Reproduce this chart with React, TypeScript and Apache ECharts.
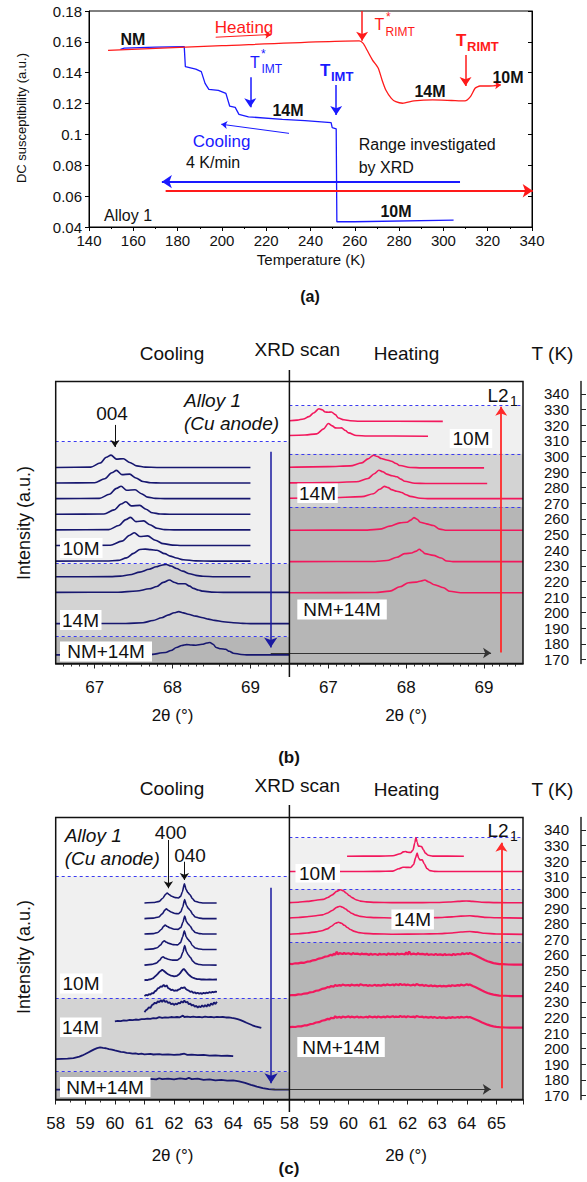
import { useEffect, useRef } from 'react';
import * as echarts from 'echarts';

const F = '"Liberation Sans", Arial, Helvetica, sans-serif';

// ---------------- (a) DC susceptibility vs temperature ----------------
const heatingCurve = [[148.6,0.1545],[200,0.1575],[262,0.1606],[263.8,0.159],[265.5,0.1547],[268,0.1482],[270.6,0.1429],[272.3,0.1353],[274,0.1288],[276.5,0.1234],[278.5,0.1212],[281.6,0.1202],[286.7,0.1217],[295.2,0.1224],[303.7,0.122],[309.7,0.1217],[312.2,0.1245],[314.3,0.1299],[316.5,0.1314],[320.7,0.1314],[325.5,0.132]];
const coolingCurve = [[304.6,0.0445],[259.6,0.0434],[251.9,0.0434],[251.6,0.1036],[249.8,0.1044],[249.3,0.1076],[237.5,0.109],[227.3,0.1098],[212,0.1114],[207.7,0.113],[206,0.1175],[203.5,0.1184],[201.8,0.1266],[198.4,0.1286],[194.1,0.1292],[192.4,0.1331],[190.7,0.1407],[188.2,0.1423],[183.5,0.1439],[183,0.1569],[170,0.1566],[155.9,0.156],[154.2,0.1552]];

// ---------------- tick labels ----------------
const tLabels = [170,180,190,200,210,220,230,240,250,260,270,280,290,300,310,320,330,340];
const bTwoThetaLabels = [67,68,69];

// shaded-band boundaries (K): [white/10M, 10M/14M, 14M/NM+14M]
const bLeftBounds = [309.5, 231.4, 184.7];
const bRightBounds = [332.5, 301.7, 267.6];
const cLeftBounds = [310.2, 232.3, 185.3];
const cRightBounds = [335.1, 302.0, 268.2];

// ---------------- (b) cooling patterns (2θ, offset) ----------------
const bCool293 = { T: 293, pts: [[66.5,0],[66.95,0.2],[67.07,2.8],[67.15,6.5],[67.21,7.9],[67.28,5.3],[67.37,5.6],[67.45,3.2],[67.54,1.0],[67.65,0.2],[67.8,0],[69.0,0]] };
const bCool283 = { T: 283, pts: [[66.5,0],[67.0,0.2],[67.13,2.8],[67.22,6.6],[67.28,8.1],[67.35,5.4],[67.45,5.7],[67.53,3.2],[67.62,1.0],[67.72,0.2],[67.85,0],[69.0,0]] };
const bCool273 = { T: 273, pts: [[66.5,0],[67.06,0.2],[67.19,2.8],[67.28,6.6],[67.34,8.0],[67.41,5.4],[67.52,5.7],[67.6,3.2],[67.68,1.0],[67.78,0.2],[67.9,0],[69.0,0]] };
const bCool263 = { T: 263, pts: [[66.5,0],[67.12,0.2],[67.25,2.8],[67.34,6.6],[67.4,8.0],[67.47,5.4],[67.58,5.7],[67.66,3.2],[67.74,1.0],[67.84,0.2],[67.96,0],[69.0,0]] };
const bCool253 = { T: 253, pts: [[66.5,0],[67.18,0.2],[67.31,2.8],[67.4,6.6],[67.46,8.0],[67.53,5.3],[67.63,5.8],[67.71,3.3],[67.8,1.1],[67.9,0.2],[68.02,0],[69.0,0]] };
const bCool243 = { T: 243, pts: [[66.5,0],[67.2,0.2],[67.35,2.8],[67.45,6.6],[67.51,8.2],[67.58,5.8],[67.68,6.2],[67.78,3.4],[67.88,1.2],[68.0,0.3],[68.12,0],[69.0,0]] };
const bCool233 = { T: 233, pts: [[66.5,0],[67.15,0.1],[67.3,0.5],[67.41,2.1],[67.5,5.0],[67.58,7.5],[67.65,7.7],[67.72,7.4],[67.8,7.0],[67.9,4.8],[67.97,3.2],[68.05,2.0],[68.14,0.9],[68.3,0.2],[68.5,0],[69.0,0]] };
const bCool223 = { T: 223, pts: [[66.5,0],[67.2,0.1],[67.33,0.4],[67.45,1.3],[67.58,3.0],[67.7,4.8],[67.79,6.4],[67.86,7.4],[67.92,7.9],[67.98,6.9],[68.05,5.3],[68.13,3.6],[68.22,1.9],[68.3,0.9],[68.39,0.3],[68.55,0],[69.0,0]] };
const bCool213 = { T: 213, pts: [[66.5,0],[67.3,0.1],[67.54,0.9],[67.7,2.3],[67.8,3.8],[67.88,6.4],[67.96,7.9],[68.03,6.3],[68.08,5.5],[68.16,5.5],[68.22,4.0],[68.27,2.6],[68.33,1.5],[68.39,0.8],[68.5,0.2],[68.65,0],[69.5,0]] };
const bCool193 = { T: 193, pts: [[66.5,0],[67.4,0.1],[67.62,0.6],[67.75,2.0],[67.86,3.8],[67.95,5.6],[68.02,7.0],[68.08,7.7],[68.14,6.9],[68.2,6.0],[68.3,4.8],[68.39,3.8],[68.46,2.9],[68.54,2.1],[68.65,1.2],[68.78,0.6],[68.9,0.2],[69.0,0],[69.5,0]] };
const bCool173 = { T: 173, pts: [[66.5,0],[67.7,0.1],[67.91,1.5],[67.98,2.8],[68.05,4.7],[68.12,6.0],[68.18,6.6],[68.24,6.3],[68.3,6.2],[68.38,6.8],[68.44,7.6],[68.48,7.9],[68.52,6.8],[68.56,4.7],[68.62,3.9],[68.68,3.6],[68.73,2.3],[68.78,1.1],[68.88,0.3],[68.97,0],[69.5,0]] };

// ---------------- (b) heating patterns ----------------
const bHeat323 = { T: 322.5, pts: [[66.5,0.4],[66.6,0.8],[66.68,1.5],[66.75,3.0],[66.81,5.3],[66.88,8.1],[66.92,7.4],[66.96,6.0],[67.0,5.8],[67.04,6.0],[67.09,4.3],[67.13,2.1],[67.2,1.0],[67.28,0.4],[67.4,0.1],[68.47,0]] };
const bHeat313 = { T: 313, pts: [[66.5,0.4],[66.7,0.8],[66.85,1.5],[66.94,4.7],[67.0,8.1],[67.05,6.6],[67.09,5.3],[67.13,5.2],[67.17,5.3],[67.22,3.6],[67.26,2.1],[67.36,0.4],[67.5,0.1],[68.28,0]] };
const bHeat293 = { T: 292.7, pts: [[66.5,0.4],[67.0,0.8],[67.28,1.3],[67.43,3.2],[67.51,5.8],[67.58,8.1],[67.63,7.3],[67.68,6.0],[67.75,5.1],[67.81,4.3],[67.87,2.8],[67.92,1.5],[68.05,0.3],[68.2,0],[69.0,0]] };
const bHeat283 = { T: 282.7, pts: [[66.5,0.4],[67.0,0.6],[67.36,1.1],[67.51,3.2],[67.59,6.3],[67.65,8.5],[67.7,7.5],[67.75,6.0],[67.82,5.0],[67.88,4.3],[67.93,2.8],[67.98,1.5],[68.11,0.2],[68.25,0],[69.04,0]] };
const bHeat273 = { T: 273, pts: [[66.5,0.3],[67.0,0.5],[67.43,1.3],[67.58,3.2],[67.66,6.0],[67.72,7.9],[67.77,7.1],[67.81,5.8],[67.88,4.8],[67.94,4.0],[68.0,2.5],[68.05,1.5],[68.18,0.3],[68.3,0],[69.5,0]] };
const bHeat253 = { T: 252.8, pts: [[66.5,0],[67.5,0.1],[67.66,0.7],[67.79,2.6],[67.92,4.7],[68.01,5.1],[68.06,6.5],[68.1,8.1],[68.14,7.0],[68.18,5.1],[68.26,4.1],[68.35,3.0],[68.43,0.7],[68.52,0],[69.5,0]] };
const bHeat233 = { T: 232.7, pts: [[66.5,0],[67.6,0.1],[67.75,0.7],[67.88,2.8],[67.98,5.1],[68.07,5.5],[68.12,6.6],[68.17,7.9],[68.2,6.8],[68.24,5.1],[68.35,4.0],[68.45,2.3],[68.52,0.4],[68.6,0],[69.5,0]] };
const bHeat213 = { T: 212.8, pts: [[66.5,0],[67.6,0.1],[67.79,1.0],[67.92,3.8],[68.03,6.4],[68.13,6.8],[68.19,7.5],[68.24,8.1],[68.29,6.9],[68.35,5.3],[68.48,3.2],[68.56,0.9],[68.7,0],[69.5,0]] };

// ---------------- (c) cooling patterns ----------------
const cCool293 = { T: 293.3, pts: [[61.0,0],[61.3,0.3],[61.5,1.0],[61.62,3.0],[61.72,5.6],[61.77,6.4],[61.83,5.4],[61.92,4.3],[62.05,3.4],[62.15,3.2],[62.22,4.2],[62.28,7.0],[62.35,12.2],[62.41,8.6],[62.47,6.6],[62.54,5.3],[62.62,2.8],[62.71,1.1],[62.85,0.3],[63.0,0],[63.44,0]] };
const cCool283 = { T: 283.3, pts: [[61.0,0],[61.3,0.3],[61.48,1.0],[61.6,3.0],[61.69,5.4],[61.74,6.3],[61.8,5.3],[61.9,4.2],[62.03,3.3],[62.15,3.1],[62.23,4.3],[62.29,7.2],[62.36,12.2],[62.42,8.4],[62.48,6.6],[62.55,5.2],[62.63,2.7],[62.72,1.0],[62.86,0.3],[63.0,0],[63.44,0]] };
const cCool273 = { T: 273.4, pts: [[61.0,0],[61.3,0.3],[61.45,1.0],[61.57,2.9],[61.65,5.0],[61.7,5.8],[61.76,5.0],[61.86,4.0],[62.0,3.1],[62.14,3.0],[62.23,4.2],[62.3,7.5],[62.36,11.6],[62.42,8.0],[62.48,6.4],[62.55,5.0],[62.63,2.6],[62.72,1.0],[62.86,0.3],[63.0,0],[63.44,0]] };
const cCool263 = { T: 263.5, pts: [[61.0,0],[61.3,0.4],[61.43,1.1],[61.55,3.0],[61.62,4.9],[61.67,5.6],[61.73,4.8],[61.83,3.9],[61.97,3.1],[62.12,3.0],[62.22,4.4],[62.29,8.0],[62.35,12.0],[62.41,8.2],[62.47,6.5],[62.54,5.1],[62.62,2.6],[62.72,1.0],[62.86,0.3],[63.0,0],[63.44,0]] };
const cCool253 = { T: 253.5, pts: [[61.0,0],[61.25,0.5],[61.4,1.3],[61.52,3.2],[61.58,4.8],[61.63,5.4],[61.69,4.6],[61.8,3.8],[61.95,3.2],[62.1,3.2],[62.22,4.6],[62.3,8.4],[62.36,12.6],[62.42,8.6],[62.48,6.6],[62.55,5.0],[62.63,2.6],[62.72,1.1],[62.86,0.4],[63.0,0.1],[63.44,0]] };
const cCool243 = { T: 243.7, pts: [[61.0,0],[61.05,0.3],[61.1,0.2],[61.15,0.6],[61.2,0.7],[61.25,1.1],[61.3,1.5],[61.35,2.4],[61.4,3.3],[61.45,4.2],[61.5,5.3],[61.55,6.1],[61.6,6.8],[61.65,6.2],[61.7,5.4],[61.75,4.6],[61.8,4.0],[61.85,3.5],[61.9,3.1],[61.95,2.9],[62.0,2.6],[62.05,2.8],[62.1,3.0],[62.15,3.6],[62.2,4.5],[62.25,5.8],[62.3,7.0],[62.33,7.4],[62.37,6.6],[62.42,5.4],[62.47,4.2],[62.52,3.3],[62.57,2.5],[62.62,1.9],[62.7,1.3],[62.78,0.9],[62.85,0.8],[62.92,0.6],[63.0,0.7],[63.1,0.5],[63.2,0.6],[63.3,0.5],[63.45,0.6]] };
const cCool233 = { T: 233.8, pts: [[61.0,0],[61.05,0.6],[61.1,0.3],[61.15,1.1],[61.2,0.8],[61.25,1.8],[61.3,1.6],[61.35,2.9],[61.4,3.4],[61.45,4.8],[61.5,5.1],[61.55,6.2],[61.6,5.8],[61.65,7.2],[61.7,5.9],[61.75,6.8],[61.8,5.0],[61.85,4.6],[61.9,3.7],[61.95,4.0],[62.0,3.2],[62.05,3.6],[62.1,3.3],[62.15,4.1],[62.2,4.3],[62.25,5.4],[62.3,5.0],[62.35,5.6],[62.4,4.4],[62.45,3.8],[62.5,3.4],[62.55,2.6],[62.6,2.9],[62.65,2.0],[62.7,2.3],[62.75,1.6],[62.8,2.0],[62.85,1.4],[62.9,1.8],[62.95,1.3],[63.0,2.0],[63.05,1.5],[63.1,2.2],[63.15,1.8],[63.2,2.5],[63.25,2.0],[63.3,2.6],[63.35,2.3],[63.4,2.8],[63.45,2.6]] };
const cCool223 = { T: 223.4, pts: [[61.0,0],[61.05,1.2],[61.1,1.9],[61.15,3.2],[61.2,2.6],[61.25,4.4],[61.3,5.0],[61.35,6.1],[61.4,5.5],[61.45,7.0],[61.5,6.3],[61.55,7.7],[61.6,6.6],[61.65,7.9],[61.7,6.5],[61.75,7.2],[61.8,5.8],[61.85,6.4],[61.9,5.0],[61.95,5.6],[62.0,4.6],[62.05,5.5],[62.1,4.9],[62.15,6.0],[62.2,5.6],[62.25,6.9],[62.3,6.1],[62.35,7.4],[62.4,6.2],[62.45,6.6],[62.5,5.1],[62.55,5.5],[62.6,4.2],[62.65,4.8],[62.7,3.4],[62.75,4.1],[62.8,2.9],[62.85,3.8],[62.9,3.1],[62.95,4.4],[63.0,3.3],[63.05,4.6],[63.1,3.5],[63.15,5.1],[63.2,3.9],[63.25,5.6],[63.3,4.6],[63.35,6.3],[63.4,5.2],[63.45,6.6]] };
const cCool213 = { T: 213.3, pts: [[60.0,4.2],[60.1,4.5],[60.2,4.3],[60.3,4.8],[60.4,4.7],[60.5,5.1],[60.6,5.0],[60.7,5.4],[60.8,5.2],[60.9,5.7],[61.0,5.6],[61.1,6.0],[61.2,5.8],[61.3,6.3],[61.4,6.1],[61.5,6.9],[61.6,6.4],[61.7,6.8],[61.8,6.6],[61.9,7.0],[62.0,6.7],[62.1,7.0],[62.2,6.8],[62.3,7.9],[62.35,7.0],[62.45,7.2],[62.55,6.9],[62.65,7.2],[62.75,6.9],[62.85,7.1],[62.95,6.8],[63.05,7.2],[63.15,6.9],[63.25,7.1],[63.35,6.8],[63.45,7.1],[63.55,6.9],[63.65,7.0],[63.75,6.7],[63.85,6.8],[63.95,6.4],[64.05,6.1],[64.15,5.6],[64.25,5.0],[64.35,4.2],[64.45,3.3],[64.55,2.5],[64.65,1.7],[64.75,1.0],[64.85,0.5],[64.95,0]] };
const cCool193 = { T: 193.4, pts: [[58.0,0],[58.2,0.1],[58.4,0.2],[58.6,0.6],[58.8,1.5],[58.9,2.3],[59.0,3.2],[59.1,4.2],[59.2,5.2],[59.3,6.2],[59.4,7.0],[59.5,7.4],[59.6,7.1],[59.7,6.9],[59.8,6.3],[59.9,6.0],[60.0,5.5],[60.1,5.1],[60.2,4.6],[60.3,4.4],[60.4,4.0],[60.5,3.8],[60.6,3.4],[60.7,3.6],[60.8,3.2],[60.9,3.4],[61.0,3.0],[61.2,3.3],[61.3,2.9],[61.5,3.2],[61.6,2.8],[61.8,3.0],[62.0,2.7],[62.2,2.9],[62.35,3.4],[62.45,2.7],[62.6,2.8],[62.8,2.5],[63.0,2.6],[63.2,2.2],[63.4,2.4],[63.6,2.0],[63.8,2.1],[64.0,1.8]] };
const cCool173 = { T: 173.8, pts: [[58.0,0],[58.2,0.1],[58.4,0.4],[58.6,0.8],[58.8,1.6],[59.0,2.7],[59.2,4.0],[59.4,5.2],[59.6,6.0],[59.8,6.3],[60.0,6.5],[60.2,6.2],[60.4,6.7],[60.6,6.4],[60.8,6.8],[61.0,6.5],[61.2,6.9],[61.4,6.6],[61.5,7.3],[61.6,6.7],[61.8,7.0],[62.0,6.6],[62.2,7.2],[62.4,6.8],[62.5,7.5],[62.6,6.7],[62.8,7.0],[63.0,6.3],[63.2,6.6],[63.4,6.0],[63.6,6.2],[63.8,5.8],[64.0,5.9],[64.2,5.3],[64.4,4.4],[64.6,3.1],[64.8,2.0],[65.0,1.0],[65.2,0.4],[65.4,0.1],[65.6,0],[65.9,0]] };

// ---------------- (c) heating patterns ----------------
const cHeat323 = { T: 323.2, pts: [[59.95,0],[61.0,0.1],[61.5,0.3],[61.75,1.6],[61.85,2.8],[61.92,3.0],[62.0,2.6],[62.1,2.4],[62.18,4.0],[62.24,8.5],[62.28,12.0],[62.32,9.0],[62.36,6.5],[62.42,6.4],[62.47,6.2],[62.53,4.2],[62.6,2.0],[62.7,0.6],[62.85,0.1],[63.9,0]] };
const cHeat313 = { T: 313.4, pts: [[58.0,0],[60.0,0],[61.0,0.1],[61.5,0.3],[61.7,1.8],[61.84,2.8],[61.95,2.7],[62.1,2.6],[62.2,4.5],[62.27,9.0],[62.32,11.8],[62.37,8.5],[62.43,7.4],[62.49,7.5],[62.56,5.0],[62.65,2.0],[62.75,0.6],[62.9,0.1],[63.2,0],[65.9,0]] };
const cHeat293 = { T: 293.3, pts: [[58.0,0.2],[58.3,0.5],[58.6,1.0],[58.9,1.7],[59.14,2.3],[59.3,3.5],[59.45,5.2],[59.6,7.4],[59.73,8.5],[59.82,7.8],[59.92,6.4],[60.02,4.8],[60.12,3.4],[60.25,2.1],[60.4,1.2],[60.6,0.7],[60.9,0.4],[61.5,0.2],[62.5,0.2],[63.0,0.3],[63.4,0.6],[63.7,1.0],[63.98,1.3],[64.2,1.0],[64.5,0.5],[65.0,0.2],[65.9,0.1]] };
const cHeat283 = { T: 283.5, pts: [[58.0,0.2],[58.3,0.5],[58.6,1.0],[58.9,1.6],[59.12,2.2],[59.3,3.4],[59.45,5.0],[59.6,7.0],[59.71,7.7],[59.8,7.1],[59.9,5.9],[60.0,4.5],[60.1,3.2],[60.25,2.0],[60.4,1.2],[60.6,0.7],[60.9,0.4],[61.5,0.2],[62.5,0.2],[63.0,0.4],[63.5,0.9],[63.8,1.4],[64.1,1.6],[64.35,1.2],[64.6,0.6],[65.0,0.3],[65.9,0.1]] };
const cHeat273 = { T: 273.1, pts: [[58.0,0.2],[58.3,0.5],[58.6,1.0],[58.9,1.7],[59.1,2.4],[59.28,3.6],[59.42,5.3],[59.56,7.2],[59.66,7.9],[59.76,7.2],[59.86,5.9],[59.96,4.5],[60.06,3.2],[60.2,2.0],[60.35,1.2],[60.55,0.7],[60.9,0.4],[61.5,0.2],[62.5,0.3],[63.0,0.5],[63.5,1.0],[63.8,1.6],[64.1,1.9],[64.35,1.5],[64.6,0.8],[65.0,0.3],[65.9,0.1]] };
const cHeat253 = { T: 253.8, pts: [[58.0,0.6],[58.1,0.4],[58.2,0.9],[58.3,0.8],[58.4,1.3],[58.5,1.2],[58.6,1.9],[58.7,2.1],[58.8,2.8],[58.9,3.1],[59.0,3.9],[59.1,4.3],[59.2,5.1],[59.3,5.4],[59.4,6.4],[59.45,5.8],[59.5,7.0],[59.55,6.3],[59.6,8.2],[59.65,6.6],[59.7,7.4],[59.8,6.8],[59.85,7.6],[59.9,6.9],[60.0,7.3],[60.1,6.6],[60.15,7.5],[60.2,6.9],[60.3,7.1],[60.4,6.5],[60.45,7.2],[60.5,6.7],[60.6,6.9],[60.7,6.3],[60.75,7.0],[60.8,6.4],[60.9,6.8],[61.0,6.2],[61.05,7.1],[61.1,6.5],[61.2,6.8],[61.3,6.3],[61.35,7.3],[61.4,6.6],[61.5,6.9],[61.6,6.4],[61.65,7.2],[61.7,6.6],[61.8,7.0],[61.9,6.5],[61.95,7.8],[62.0,6.4],[62.05,8.4],[62.1,6.6],[62.2,7.1],[62.3,6.5],[62.35,7.4],[62.4,6.7],[62.5,6.9],[62.6,6.4],[62.65,7.0],[62.7,6.3],[62.8,6.7],[62.9,6.2],[62.95,6.9],[63.0,6.3],[63.1,6.6],[63.2,6.1],[63.25,6.8],[63.3,6.2],[63.4,6.5],[63.5,6.1],[63.55,6.9],[63.6,6.3],[63.7,6.8],[63.8,6.5],[63.85,7.4],[63.9,6.7],[64.0,7.3],[64.05,6.8],[64.1,7.5],[64.2,6.6],[64.3,5.8],[64.4,4.9],[64.5,3.9],[64.6,3.0],[64.7,2.2],[64.8,1.6],[64.9,1.0],[65.0,0.7],[65.1,0.4],[65.2,0.3],[65.4,0.1],[65.6,0.0],[65.9,0.0]] };
const cHeat233 = { T: 233.7, pts: [[58.0,0.4],[58.1,0.7],[58.2,0.6],[58.3,1.1],[58.4,1.0],[58.5,1.6],[58.6,1.7],[58.7,2.4],[58.8,2.6],[58.9,3.4],[59.0,3.7],[59.1,4.6],[59.2,4.9],[59.3,5.8],[59.35,5.5],[59.4,6.4],[59.5,6.1],[59.55,7.1],[59.6,6.5],[59.7,7.0],[59.75,6.6],[59.8,7.4],[59.9,6.8],[60.0,7.1],[60.05,6.5],[60.1,7.3],[60.2,6.8],[60.3,7.2],[60.35,6.6],[60.4,7.6],[60.5,6.9],[60.6,7.1],[60.65,6.5],[60.7,7.0],[60.8,6.6],[60.9,7.2],[60.95,6.6],[61.0,7.0],[61.1,6.7],[61.2,7.3],[61.25,6.8],[61.3,7.5],[61.4,6.9],[61.5,7.4],[61.55,6.8],[61.6,7.6],[61.7,7.0],[61.75,7.9],[61.8,7.1],[61.9,7.5],[61.95,6.9],[62.0,7.4],[62.1,6.8],[62.2,7.3],[62.25,6.7],[62.3,7.8],[62.4,6.9],[62.5,7.2],[62.55,6.5],[62.6,7.0],[62.7,6.4],[62.8,6.8],[62.85,6.2],[62.9,6.7],[63.0,6.2],[63.1,6.6],[63.15,6.1],[63.2,6.5],[63.3,6.2],[63.4,6.7],[63.45,6.3],[63.5,6.9],[63.6,6.5],[63.7,7.0],[63.75,6.6],[63.8,7.3],[63.9,6.8],[64.0,7.6],[64.05,7.0],[64.1,7.4],[64.2,6.4],[64.3,5.6],[64.4,4.7],[64.5,3.7],[64.6,2.8],[64.7,2.0],[64.8,1.4],[64.9,0.9],[65.0,0.6],[65.1,0.3],[65.3,0.2],[65.5,0.0],[65.9,0.0]] };
const cHeat213 = { T: 213.5, pts: [[58.0,0.3],[58.1,0.5],[58.2,0.4],[58.3,0.9],[58.4,0.8],[58.5,1.4],[58.6,1.5],[58.7,2.2],[58.8,2.5],[58.9,3.3],[59.0,3.5],[59.1,4.4],[59.2,4.8],[59.3,5.6],[59.35,5.3],[59.4,6.2],[59.5,6.0],[59.55,7.3],[59.6,6.4],[59.7,6.9],[59.75,6.3],[59.8,7.1],[59.9,6.6],[60.0,7.2],[60.05,6.5],[60.1,7.0],[60.2,6.6],[60.3,7.1],[60.35,6.4],[60.4,6.9],[60.5,6.5],[60.6,7.0],[60.65,6.4],[60.7,7.2],[60.8,6.6],[60.9,7.0],[60.95,6.5],[61.0,7.1],[61.1,6.6],[61.2,7.0],[61.25,6.5],[61.3,7.2],[61.4,6.7],[61.5,7.3],[61.55,6.7],[61.6,7.1],[61.7,6.8],[61.75,7.5],[61.8,6.9],[61.9,7.2],[61.95,6.6],[62.0,7.3],[62.1,6.8],[62.2,7.1],[62.25,6.5],[62.3,7.4],[62.4,6.8],[62.5,7.0],[62.55,6.4],[62.6,6.9],[62.7,6.4],[62.8,6.9],[62.85,6.3],[62.9,6.8],[63.0,6.2],[63.1,6.7],[63.15,6.2],[63.2,6.6],[63.3,6.1],[63.4,6.6],[63.45,6.2],[63.5,6.7],[63.6,6.3],[63.7,6.8],[63.75,6.3],[63.8,6.9],[63.9,6.5],[64.0,7.0],[64.05,6.5],[64.1,6.8],[64.2,6.0],[64.3,5.2],[64.4,4.4],[64.5,3.5],[64.6,2.7],[64.7,1.9],[64.8,1.3],[64.9,0.8],[65.0,0.5],[65.1,0.3],[65.3,0.1],[65.5,0.0],[65.9,0.0]] };

const bCoolCurves = [bCool293,bCool283,bCool273,bCool263,bCool253,bCool243,bCool233,bCool223,bCool213,bCool193,bCool173];
const bHeatCurves = [bHeat323,bHeat313,bHeat293,bHeat283,bHeat273,bHeat253,bHeat233,bHeat213];
const cCoolSmooth = [cCool293,cCool283,cCool273,cCool263,cCool253];
const cCoolNoisy = [cCool243,cCool233,cCool223,cCool213,cCool193,cCool173];
const cHeatSmooth = [cHeat323,cHeat313,cHeat293,cHeat283,cHeat273];
const cHeatNoisy = [cHeat253,cHeat233,cHeat213];

// ---------------- styles ----------------
const NAVY = '#17176f';
const PINK = '#f2185d';
const RED = '#ff1a1a';
const BLUE = '#1a1aff';
const DASH = '#3b3bf0';
const LIGHT = '#f0f0f0', MID = '#d3d3d3', DARK = '#b6b6b6';
const TMIN = 167.5, TMAX = 348;

function curve(c: any, xi: number, yi: number, color: string, smooth: number | boolean, width = 1.6) {
  return {
    type: 'line', xAxisIndex: xi, yAxisIndex: yi, silent: true, z: 5,
    data: c.pts.map((p: number[]) => [p[0], c.T + p[1]]),
    showSymbol: false, symbol: 'none', smooth, smoothMonotone: 'x',
    lineStyle: { color, width },
  };
}
function arrow(xi: number, yi: number, from: number[], to: number[], color: string, width: number, head = true, size = 9) {
  return {
    type: 'lines', coordinateSystem: 'cartesian2d', xAxisIndex: xi, yAxisIndex: yi, silent: true, z: 6,
    symbol: ['none', head ? 'arrow' : 'none'], symbolSize: size,
    lineStyle: { color, width, opacity: 1, curveness: 0 },
    data: [{ coords: [from, to] }],
  };
}
function bg(xi: number, yi: number, x0: number, b: number[]) {
  return {
    type: 'scatter', xAxisIndex: xi, yAxisIndex: yi, silent: true, z: 1,
    data: [[x0, 200]], symbolSize: 0,
    markArea: {
      silent: true,
      data: [
        [{ yAxis: b[1], itemStyle: { color: LIGHT } }, { yAxis: b[0] }],
        [{ yAxis: b[2], itemStyle: { color: MID } }, { yAxis: b[1] }],
        [{ yAxis: TMIN, itemStyle: { color: DARK } }, { yAxis: b[2] }],
      ],
    },
    markLine: {
      silent: true, symbol: ['none', 'none'], label: { show: false },
      lineStyle: { color: DASH, type: [3, 3], width: 1 },
      data: b.map((v) => ({ yAxis: v })),
    },
  };
}

function txt(x: number, y: number, text: string, size: number, o: any = {}) {
  const align = o.align || 'center';
  return {
    type: 'text', x, y, rotation: o.rotation || 0, z: 100, silent: true,
    style: {
      text, fill: o.color || '#111', fontSize: size, fontFamily: F,
      fontWeight: o.weight || 'normal', fontStyle: o.italic ? 'italic' : 'normal',
      align, verticalAlign: 'middle', textAlign: align, textVerticalAlign: 'middle',
    },
  };
}
function box(x: number, y: number, w: number, h: number) {
  return { type: 'rect', z: 99, silent: true, shape: { x, y, width: w, height: h }, style: { fill: '#ffffff' } };
}
function outline(x: number, y: number, w: number, h: number) {
  return { type: 'rect', z: 98, silent: true, shape: { x, y, width: w, height: h }, style: { fill: 'none', stroke: '#111', lineWidth: 1.5 } };
}
function vline(x: number, y1: number, y2: number) {
  return { type: 'line', z: 98, silent: true, shape: { x1: x, y1, x2: x, y2 }, style: { stroke: '#111', lineWidth: 1.5 } };
}

const axisLbl = { color: '#111', fontFamily: F };
const hiddenY = (gi: number) => ({ type: 'value', gridIndex: gi, min: TMIN, max: TMAX, show: false });
const tAxis = (gi: number) => ({
  type: 'value', gridIndex: gi, min: TMIN, max: TMAX, position: 'left',
  axisLine: { show: true, lineStyle: { color: '#222', width: 1.5 } },
  axisTick: { show: true, inside: true, length: 5, customValues: tLabels, lineStyle: { color: '#222' } },
  axisLabel: { ...axisLbl, fontSize: 15, lineHeight: 12, margin: 12, customValues: tLabels, showMinLabel: true, showMaxLabel: true, hideOverlap: false },
  splitLine: { show: false },
});
const bX = (gi: number) => ({
  type: 'value', gridIndex: gi, min: 66.5, max: 69.5, interval: 0.5,
  axisLine: { show: true, onZero: false, lineStyle: { color: '#222', width: 1.5 } },
  axisTick: { show: true, length: 5, customValues: bTwoThetaLabels, lineStyle: { color: '#222' } },
  minorTick: { show: true, splitNumber: 5, length: 3, lineStyle: { color: '#333' } },
  axisLabel: { ...axisLbl, fontSize: 17, margin: 15, customValues: bTwoThetaLabels },
  splitLine: { show: false },
});
const cX = (gi: number) => ({
  type: 'value', gridIndex: gi, min: 58, max: 65.9, interval: 1,
  axisLine: { show: true, onZero: false, lineStyle: { color: '#222', width: 1.5 } },
  axisTick: { show: true, length: 5, lineStyle: { color: '#222' } },
  minorTick: { show: true, splitNumber: 2, length: 3, lineStyle: { color: '#333' } },
  axisLabel: { ...axisLbl, fontSize: 17, margin: 15, showMaxLabel: false },
  splitLine: { show: false },
});

function buildOption() {
  const grids = [
    { left: 89, top: 11, width: 443, height: 216, show: true, borderColor: '#000', borderWidth: 1 },
    { left: 55.7, top: 381.5, width: 233.7, height: 282 },
    { left: 289.4, top: 381.5, width: 233.6, height: 282 },
    { left: 581, top: 381.5, width: 2, height: 282 },
    { left: 55.7, top: 817.5, width: 233.7, height: 282 },
    { left: 289.4, top: 817.5, width: 233.6, height: 282 },
    { left: 581, top: 817.5, width: 2, height: 282 },
  ];
  const xAxis = [
    {
      type: 'value', gridIndex: 0, min: 140, max: 340, interval: 20,
      axisLine: { lineStyle: { color: '#000' } },
      axisTick: { length: 4, lineStyle: { color: '#000' } },
      minorTick: { show: true, splitNumber: 2, length: 2, lineStyle: { color: '#000' } },
      axisLabel: { ...axisLbl, fontSize: 15, margin: 6 },
      splitLine: { show: false },
    },
    bX(1), bX(2),
    { type: 'value', gridIndex: 3, min: 0, max: 1, show: false },
    cX(4), cX(5),
    { type: 'value', gridIndex: 6, min: 0, max: 1, show: false },
  ];
  const yAxis = [
    {
      type: 'value', gridIndex: 0, min: 0.04, max: 0.18, interval: 0.02,
      axisLine: { show: true, lineStyle: { color: '#000' } },
      axisTick: { show: true, length: 4, lineStyle: { color: '#000' } },
      axisLabel: { ...axisLbl, fontSize: 15, margin: 7 },
      splitLine: { show: false },
    },
    {
      type: 'value', gridIndex: 0, min: 0.04, max: 0.18, interval: 0.02, position: 'right',
      axisLine: { show: true, lineStyle: { color: '#000' } },
      axisTick: { show: true, inside: true, length: 4, lineStyle: { color: '#000' } },
      axisLabel: { show: false }, splitLine: { show: false },
    },
    hiddenY(1), hiddenY(2), tAxis(3), hiddenY(4), hiddenY(5), tAxis(6),
  ];

  const series: any[] = [
    // (a)
    { type: 'line', xAxisIndex: 0, yAxisIndex: 0, data: coolingCurve, showSymbol: false, symbol: 'none', lineStyle: { color: BLUE, width: 1.3 }, z: 4, silent: true },
    { type: 'line', xAxisIndex: 0, yAxisIndex: 0, data: heatingCurve, showSymbol: false, symbol: 'none', smooth: 0.2, lineStyle: { color: RED, width: 1.3 }, z: 5, silent: true },
    arrow(0, 0, [323, 0.1318], [326, 0.1321], RED, 1, true, 6),
    arrow(0, 0, [197.2, 0.163], [222.3, 0.1648], RED, 1, true, 6),
    arrow(0, 0, [263.3, 0.18], [263.3, 0.1607], RED, 1.5),
    arrow(0, 0, [310, 0.1515], [310, 0.1314], RED, 1.5),
    arrow(0, 0, [212.8, 0.137], [212.8, 0.1176], BLUE, 1.5),
    arrow(0, 0, [251.6, 0.132], [251.6, 0.1126], BLUE, 1.5),
    arrow(0, 0, [230.3, 0.1007], [199.7, 0.1066], BLUE, 1, true, 6),
    arrow(0, 0, [307.5, 0.0694], [172.9, 0.0694], BLUE, 2, true, 10),
    arrow(0, 0, [174.6, 0.0635], [340.3, 0.0635], RED, 2, true, 10),
    // (b) backgrounds
    bg(1, 2, 66.5, bLeftBounds),
    bg(2, 3, 66.5, bRightBounds),
    // (c) backgrounds
    bg(4, 5, 58, cLeftBounds),
    bg(5, 6, 58, cRightBounds),
  ];
  bCoolCurves.forEach((c) => series.push(curve(c, 1, 2, NAVY, 0.3)));
  bHeatCurves.forEach((c) => series.push(curve(c, 2, 3, PINK, 0.3)));
  cCoolSmooth.forEach((c) => series.push(curve(c, 4, 5, NAVY, 0.25)));
  cCoolNoisy.forEach((c) => series.push(curve(c, 4, 5, NAVY, false, 1.8)));
  cHeatSmooth.forEach((c) => series.push(curve(c, 5, 6, PINK, 0.25)));
  cHeatNoisy.forEach((c) => series.push(curve(c, 5, 6, PINK, false, 2.2)));
  // (b) arrows
  series.push(arrow(1, 2, [67.26, 320.2], [67.26, 306.1], '#111', 1, true, 7));
  series.push(arrow(1, 2, [69.26, 303.1], [69.26, 177.7], '#1a1aa0', 1.5, true, 10));
  series.push(arrow(1, 2, [69.26, 174.2], [69.5, 174.2], '#333', 1, false));
  series.push(arrow(2, 3, [66.5, 174.2], [69.09, 174.2], '#333', 1, true, 8));
  series.push(arrow(2, 3, [69.22, 174.5], [69.22, 331.9], '#ff2a2a', 1.8, true, 9));
  // (c) arrows
  series.push(arrow(4, 5, [61.81, 333.6], [61.81, 302.7], '#111', 1, true, 7));
  series.push(arrow(4, 5, [62.35, 319.7], [62.35, 308.0], '#111', 1, true, 7));
  series.push(arrow(4, 5, [65.28, 303.1], [65.28, 177.9], '#1a1aa0', 1.5, true, 10));
  series.push(arrow(4, 5, [65.28, 174.0], [65.9, 174.0], '#333', 1, false));
  series.push(arrow(5, 6, [58, 174.0], [64.81, 174.0], '#333', 1, true, 8));
  series.push(arrow(5, 6, [65.17, 174.7], [65.17, 331.9], '#ff2a2a', 1.8, true, 9));

  const graphic: any[] = [
    // ---- (a) ----
    txt(21, 118, 'DC susceptibility (a.u.)', 13, { rotation: Math.PI / 2 }),
    txt(311, 259, 'Temperature (K)', 15),
    txt(310, 296, '(a)', 16, { weight: 'bold' }),
    txt(133, 39, 'NM', 16, { weight: 'bold' }),
    txt(244, 27, 'Heating', 17, { color: RED }),
    txt(374.5, 24, 'T', 16, { color: RED, align: 'left' }),
    txt(386, 17, '*', 12, { color: RED, align: 'left' }),
    txt(385.5, 32, 'RIMT', 12, { color: RED, align: 'left' }),
    txt(456, 40, 'T', 17, { color: RED, align: 'left', weight: 'bold' }),
    txt(467, 46, 'RIMT', 13, { color: RED, align: 'left', weight: 'bold' }),
    txt(508, 77, '10M', 16, { weight: 'bold' }),
    txt(430, 91, '14M', 16, { weight: 'bold' }),
    txt(250, 62, 'T', 16, { color: BLUE, align: 'left' }),
    txt(261, 54, '*', 12, { color: BLUE, align: 'left' }),
    txt(261.5, 68.5, 'IMT', 12, { color: BLUE, align: 'left' }),
    txt(320, 70, 'T', 17, { color: BLUE, align: 'left', weight: 'bold' }),
    txt(331, 76, 'IMT', 13, { color: BLUE, align: 'left', weight: 'bold' }),
    txt(288, 110, '14M', 16, { weight: 'bold' }),
    txt(221.6, 141, 'Cooling', 17, { color: BLUE }),
    txt(186, 162, '4 K/min', 16, { align: 'left' }),
    txt(358.7, 144, 'Range investigated', 16, { align: 'left' }),
    txt(358.7, 167, 'by XRD', 16, { align: 'left' }),
    txt(396, 211, '10M', 16, { weight: 'bold' }),
    txt(104, 215, 'Alloy 1', 16, { align: 'left' }),

    // ---- (b) ----
    txt(172, 353, 'Cooling', 19),
    txt(297.3, 349, 'XRD scan', 19),
    txt(406.5, 353, 'Heating', 19),
    txt(552.5, 353, 'T (K)', 19),
    txt(23.5, 523, 'Intensity (a.u.)', 18, { rotation: Math.PI / 2 }),
    outline(55.7, 381.5, 467.3, 282),
    vline(289.4, 370, 677),
    box(60, 538, 42.5, 20), txt(81, 548, '10M', 19),
    box(60, 610, 41.5, 20), txt(80.5, 620, '14M', 19),
    box(60, 641.5, 92, 20), txt(106, 651.5, 'NM+14M', 19),
    box(449.7, 429, 42.5, 19), txt(471, 438.5, '10M', 19),
    box(297.3, 483.5, 40.5, 19.5), txt(317.5, 493, '14M', 19),
    box(297.3, 599.5, 89.5, 20), txt(342, 609.5, 'NM+14M', 19),
    txt(112, 413, '004', 19),
    txt(184, 400, 'Alloy 1', 19, { italic: true, align: 'left' }),
    txt(184, 423, '(Cu anode)', 19, { italic: true, align: 'left' }),
    txt(487.4, 395, 'L2', 19, { align: 'left' }),
    txt(510, 401, '1', 14, { align: 'left' }),
    txt(172.5, 715, '2θ (°)', 17),
    txt(406, 715, '2θ (°)', 17),
    txt(289, 757, '(b)', 17, { weight: 'bold' }),

    // ---- (c) ----
    txt(172, 788, 'Cooling', 19),
    txt(297.3, 785, 'XRD scan', 19),
    txt(406.5, 789, 'Heating', 19),
    txt(552.5, 789, 'T (K)', 19),
    txt(23.5, 957, 'Intensity (a.u.)', 18, { rotation: Math.PI / 2 }),
    outline(55.7, 817.5, 467.3, 282),
    vline(289.4, 805, 1112),
    box(60, 973.5, 42.5, 20), txt(81, 983.5, '10M', 19),
    box(60, 1017.5, 41.5, 19.5), txt(80.5, 1027, '14M', 19),
    box(60, 1077, 90.5, 20), txt(105, 1087, 'NM+14M', 19),
    box(295.5, 864, 44.5, 18.5), txt(317.5, 873, '10M', 19),
    box(391.4, 909.5, 42.5, 20), txt(412.5, 919, '14M', 19),
    box(297.3, 1037, 87.5, 20), txt(341, 1047, 'NM+14M', 19),
    txt(64.7, 835.7, 'Alloy 1', 19, { italic: true, align: 'left' }),
    txt(64.7, 858.3, '(Cu anode)', 19, { italic: true, align: 'left' }),
    txt(170.7, 832.3, '400', 19),
    txt(190, 855, '040', 19),
    txt(487.4, 830, 'L2', 19, { align: 'left' }),
    txt(510, 836, '1', 14, { align: 'left' }),
    txt(172.5, 1155, '2θ (°)', 17),
    txt(406, 1155, '2θ (°)', 17),
    txt(289, 1168, '(c)', 17, { weight: 'bold' }),
  ];

  return {
    animation: false,
    backgroundColor: '#ffffff',
    textStyle: { fontFamily: F },
    grid: grids,
    xAxis,
    yAxis,
    series,
    graphic,
  };
}

export default function App() {
  const ref = useRef<HTMLDivElement>(null);
  useEffect(() => {
    if (!ref.current) return;
    const chart = echarts.init(ref.current, null, { renderer: 'svg' });
    chart.setOption(buildOption() as any);
    return () => chart.dispose();
  }, []);
  return <div ref={ref} style={{ position: 'absolute', left: 0, top: 0, width: 587, height: 1182 }} />;
}
